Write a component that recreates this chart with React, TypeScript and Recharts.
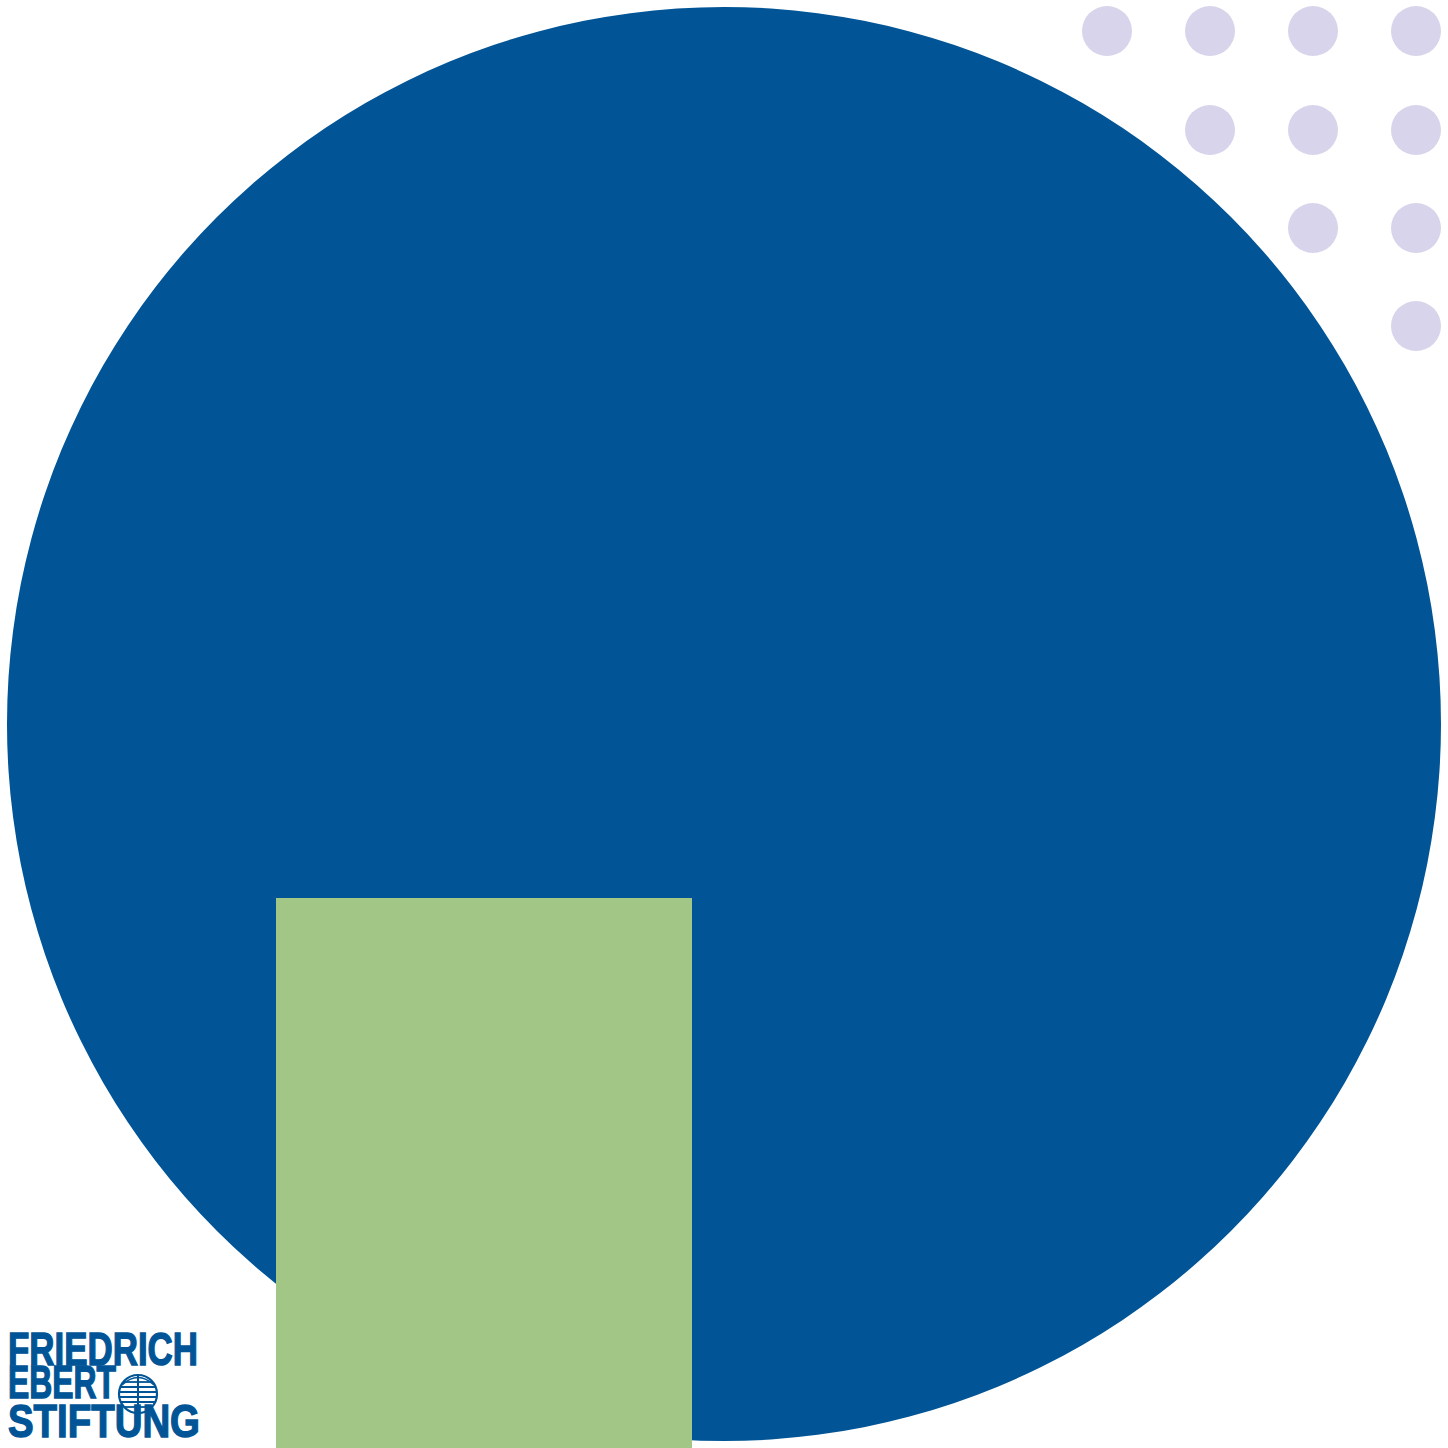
import React from "react";
import { PieChart, Pie, Cell, ComposedChart, Scatter, XAxis, YAxis, ReferenceArea, Customized } from "recharts";

const W = 1448;
const H = 1448;

const circleData = [{ name: "circle", value: 100 }];
const dotRows = [4, 3, 2, 1];
const dotColsX = [1107, 1210, 1313, 1416];
const dotRowsY = [31, 130, 228, 326];
const dots = dotRows.flatMap((n, r) =>
  dotColsX.slice(4 - n).map((x) => ({ x, y: dotRowsY[r] }))
);
const greenRect = { x1: 276, x2: 692, y1: 898, y2: 1448 };
const logoLines = ["FRIEDRICH", "EBERT", "STIFTUNG"];

const BLUE = "#015596";
const GREEN = "#A2C686";
const LAVENDER = "#D7D4EB";

const Dot = (props: any) => <circle cx={props.cx} cy={props.cy} r={25} fill={LAVENDER} />;

const FONT = "'Liberation Sans', Arial, sans-serif";

const Logo = () => {
  const gx = 138, gy = 1394, gr = 19;
  const lines = [-12, -7, -2, 3, 8, 13];
  const lineY = [1365, 1398, 1437];
  const lineLen = [190, 108, 192];
  return (
    <g>
      <text fontFamily={FONT} fontWeight={700} fontSize={46} fill={BLUE} stroke={BLUE} strokeWidth={1.4}>
        {logoLines.map((t, i) => (
          <tspan key={t} x={8} y={lineY[i]} textLength={lineLen[i]} lengthAdjust="spacingAndGlyphs">{t}</tspan>
        ))}
      </text>
      <circle cx={gx} cy={gy} r={gr} fill="none" stroke={BLUE} strokeWidth={2.2} />
      {lines.map((d) => {
        const half = Math.sqrt(Math.max(0, gr * gr - d * d));
        return <line key={d} x1={gx - half} x2={gx + half} y1={gy + d} y2={gy + d} stroke={BLUE} strokeWidth={1.8} />;
      })}
      <line x1={gx} x2={gx} y1={gy - gr} y2={gy + gr} stroke={BLUE} strokeWidth={2} />
      <path d={`M ${gx - gr + 3} ${gy - 9} Q ${gx} ${gy - 24} ${gx + gr - 3} ${gy - 9}`} fill="none" stroke={BLUE} strokeWidth={1.6} />
    </g>
  );
};

export default function App() {
  return (
    <div style={{ position: "absolute", left: 0, top: 0, width: W, height: H, background: "#ffffff" }}>
      <div style={{ position: "absolute", left: 0, top: 0 }}>
        <PieChart width={W} height={H} margin={{ top: 0, right: 0, bottom: 0, left: 0 }}>
          <Pie data={circleData} dataKey="value" cx={724} cy={724} innerRadius={0} outerRadius={717} startAngle={90} endAngle={-270} stroke="none" isAnimationActive={false}>
            {circleData.map((d) => <Cell key={d.name} fill={BLUE} />)}
          </Pie>
        </PieChart>
      </div>
      <div style={{ position: "absolute", left: 0, top: 0 }}>
        <ComposedChart width={W} height={H} margin={{ top: 0, right: 0, bottom: 0, left: 0 }}>
          <XAxis type="number" dataKey="x" domain={[0, W]} hide />
          <YAxis type="number" dataKey="y" domain={[0, H]} reversed hide />
          <ReferenceArea x1={greenRect.x1} x2={greenRect.x2} y1={greenRect.y1} y2={greenRect.y2} fill={GREEN} fillOpacity={1} stroke="none" ifOverflow="visible" />
          <Scatter data={dots} shape={Dot} isAnimationActive={false} />
          <Customized component={Logo} />
        </ComposedChart>
      </div>
    </div>
  );
}
